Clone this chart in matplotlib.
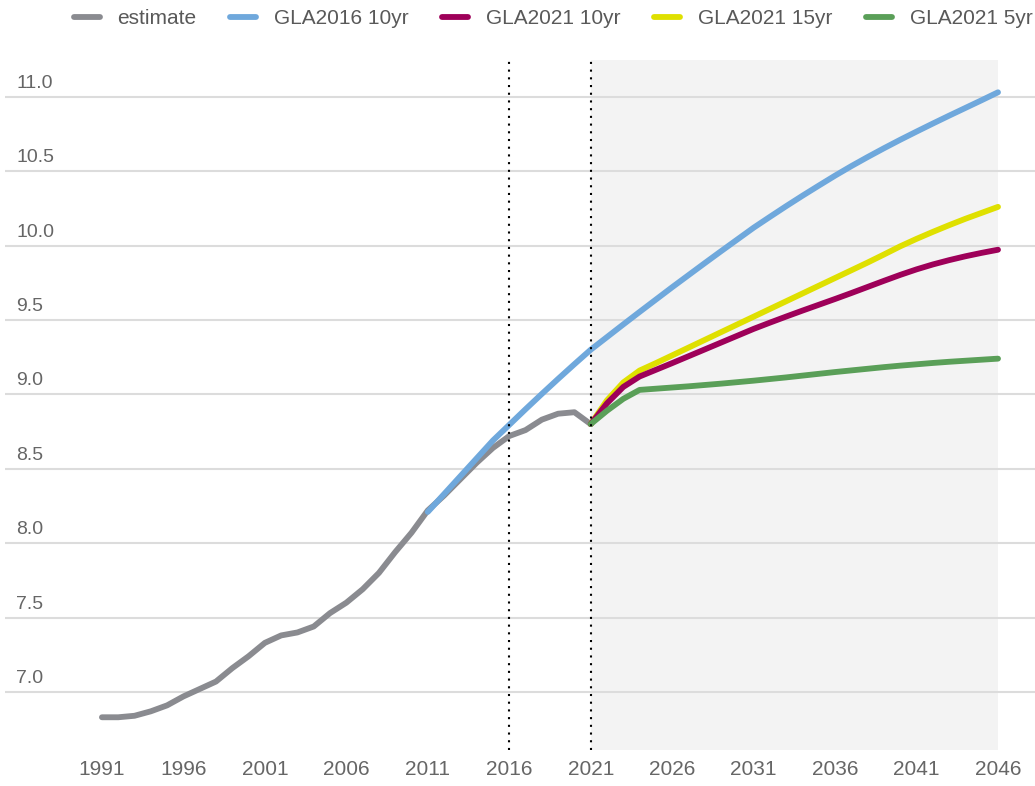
import matplotlib
matplotlib.use("Agg")
import matplotlib.pyplot as plt

plt.rcParams['font.family'] = ['Liberation Sans', 'DejaVu Sans']
plt.rcParams['lines.solid_capstyle'] = 'round'
plt.rcParams['lines.solid_joinstyle'] = 'round'

# data (millions)
est_years = list(range(1991, 2022))
estimate = [6.83, 6.83, 6.84, 6.87, 6.91, 6.97, 7.02, 7.07, 7.16, 7.24,
            7.33, 7.38, 7.40, 7.44, 7.53, 7.60, 7.69, 7.80, 7.94, 8.07,
            8.22, 8.32, 8.43, 8.54, 8.64, 8.72, 8.76, 8.83, 8.87, 8.88,
            8.80]

gla2016_years = list(range(2011, 2047))
gla2016_10yr = [8.21, 8.33, 8.45, 8.57, 8.69, 8.795, 8.90, 9.003, 9.104, 9.203,
                9.30, 9.385, 9.47, 9.554, 9.637, 9.72, 9.801, 9.882, 9.962, 10.041,
                10.12, 10.193, 10.265, 10.335, 10.403, 10.47, 10.534, 10.595, 10.654, 10.711,
                10.766, 10.82, 10.873, 10.925, 10.977, 11.03]

gla2021_years = list(range(2021, 2047))
gla2021_10yr = [8.80, 8.94, 9.05, 9.12, 9.165, 9.21, 9.256, 9.302, 9.348, 9.394,
                9.44, 9.482, 9.523, 9.563, 9.602, 9.641, 9.681, 9.722, 9.763, 9.803,
                9.84, 9.873, 9.902, 9.928, 9.951, 9.972]
gla2021_15yr = [8.80, 8.96, 9.08, 9.16, 9.21, 9.262, 9.314, 9.366, 9.418, 9.47,
                9.522, 9.574, 9.626, 9.678, 9.73, 9.782, 9.834, 9.886, 9.94, 9.995,
                10.045, 10.092, 10.137, 10.18, 10.22, 10.26]
gla2021_5yr = [8.80, 8.89, 8.97, 9.03, 9.038, 9.046, 9.054, 9.063, 9.072, 9.082,
               9.092, 9.103, 9.114, 9.126, 9.138, 9.15, 9.161, 9.172, 9.183, 9.193,
               9.202, 9.211, 9.219, 9.226, 9.233, 9.24]

x_ticks = list(range(1991, 2047, 5))
y_ticks = [7.0, 7.5, 8.0, 8.5, 9.0, 9.5, 10.0, 10.5, 11.0]
markers_v = [2016, 2021]
proj_start, proj_end = 2021, 2046

fig = plt.figure(figsize=(10.35, 7.86), dpi=100)
ax = fig.add_axes([5/1035, 36/786, 1030/1035, 690/786])

# projection period shading
ax.axvspan(proj_start, proj_end, color='#f3f3f3', zorder=0, lw=0)

lw = 4.2
ax.plot(est_years, estimate, color='#8a8b90', lw=lw, zorder=2, label='estimate')
ax.plot(gla2016_years, gla2016_10yr, color='#6fa8dc', lw=lw, zorder=3, label='GLA2016 10yr')
ax.plot(gla2021_years, gla2021_10yr, color='#9e0059', lw=lw, zorder=4, label='GLA2021 10yr')
ax.plot(gla2021_years, gla2021_15yr, color='#dfe000', lw=lw, zorder=3.5, label='GLA2021 15yr')
ax.plot(gla2021_years, gla2021_5yr, color='#5a9f58', lw=lw, zorder=5, label='GLA2021 5yr')

for xv in markers_v:
    ax.axvline(xv, color='black', lw=1.5, ls=(0, (1, 2.7)), zorder=6)

ax.set_xlim(1985.05, 2048.27)
ax.set_ylim(6.61, 11.247)

# axis styling
for s in ax.spines.values():
    s.set_visible(False)
ax.set_axisbelow(True)
ax.set_yticks(y_ticks)
ax.yaxis.grid(True, color='#dcdcdc', lw=1.5)
ax.tick_params(axis='y', length=0, labelleft=False)
ax.set_xticks(x_ticks)
ax.set_xticklabels([str(y) for y in x_ticks])
ax.tick_params(axis='x', length=0, pad=7, labelsize=15, labelcolor='#666666')

# y labels sit above the grid lines
for yv in y_ticks:
    ax.annotate(f"{yv:.1f}", xy=(11/1030, yv), xycoords=('axes fraction', 'data'),
                xytext=(0, 6.5), textcoords='offset points',
                ha='left', va='baseline', fontsize=14, color='#666666')

leg = fig.legend(loc='center left', bbox_to_anchor=(73.5/1035, 1 - 19/786), ncol=5,
                 frameon=False, fontsize=15, handlelength=1.25, handletextpad=0.85,
                 columnspacing=1.62, borderpad=0, borderaxespad=0)
for t in leg.get_texts():
    t.set_color('#595959')

fig.savefig("out.png", dpi=100)
